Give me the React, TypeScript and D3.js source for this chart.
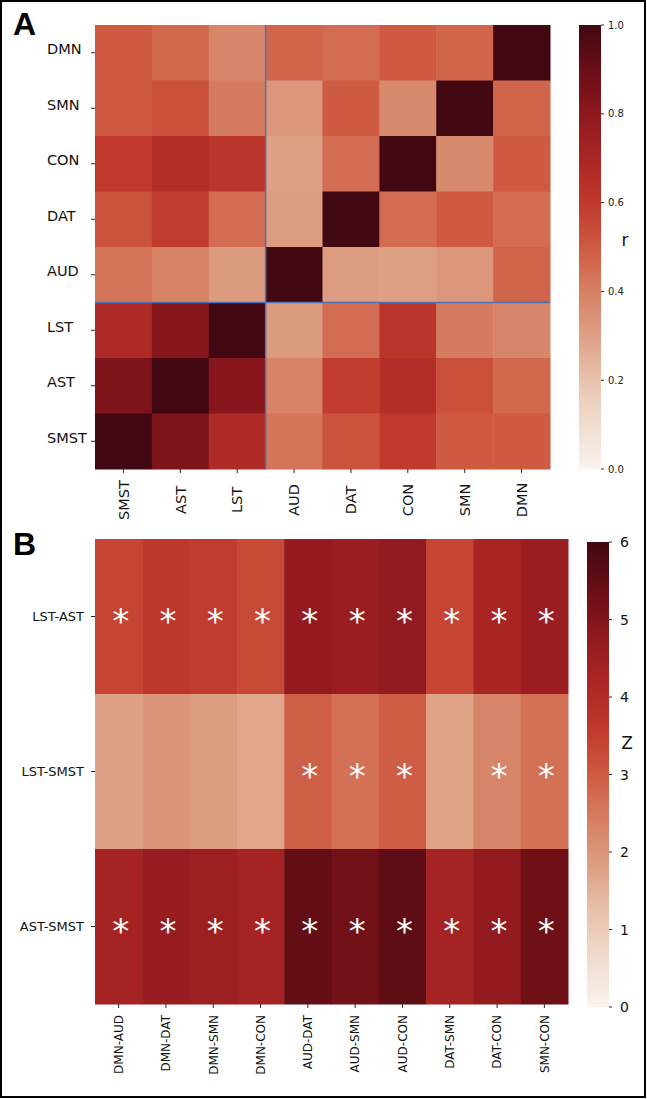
import React from "react";
import * as d3 from "d3";

// ---------- Panel A data ----------
const rowLabelsA = ["DMN", "SMN", "CON", "DAT", "AUD", "LST", "AST", "SMST"];
const colLabelsA = ["SMST", "AST", "LST", "AUD", "DAT", "CON", "SMN", "DMN"];
const rowDMN = [0.5, 0.46, 0.38, 0.47, 0.45, 0.5, 0.47, 1.0];
const rowSMN = [0.5, 0.53, 0.41, 0.33, 0.5, 0.37, 1.0, 0.47];
const rowCON = [0.6, 0.66, 0.62, 0.3, 0.45, 1.0, 0.37, 0.5];
const rowDAT = [0.52, 0.59, 0.45, 0.31, 1.0, 0.45, 0.5, 0.45];
const rowAUD = [0.43, 0.39, 0.32, 1.0, 0.31, 0.3, 0.33, 0.47];
const rowLST = [0.68, 0.82, 1.0, 0.32, 0.45, 0.62, 0.41, 0.38];
const rowAST = [0.85, 1.0, 0.82, 0.39, 0.59, 0.66, 0.53, 0.46];
const rowSMST = [1.0, 0.85, 0.68, 0.43, 0.52, 0.6, 0.5, 0.5];
const matrixA = [rowDMN, rowSMN, rowCON, rowDAT, rowAUD, rowLST, rowAST, rowSMST];
const ticksA = [0.0, 0.2, 0.4, 0.6, 0.8, 1.0];

// ---------- Panel B data ----------
const rowLabelsB = ["LST-AST", "LST-SMST", "AST-SMST"];
const colLabelsB = ["DMN-AUD", "DMN-DAT", "DMN-SMN", "DMN-CON", "AUD-DAT", "AUD-SMN", "AUD-CON", "DAT-SMN", "DAT-CON", "SMN-CON"];
const zLSTAST = [3.4, 3.65, 3.55, 3.3, 4.7, 4.55, 4.75, 3.4, 4.25, 4.55];
const zLSTSMST = [1.8, 2.0, 1.9, 1.7, 2.9, 2.65, 2.95, 1.75, 2.3, 2.65];
const zASTSMST = [4.3, 4.6, 4.5, 4.3, 5.5, 5.25, 5.55, 4.3, 4.7, 5.3];
const sigLSTAST = [1, 1, 1, 1, 1, 1, 1, 1, 1, 1];
const sigLSTSMST = [0, 0, 0, 0, 1, 1, 1, 0, 1, 1];
const sigASTSMST = [1, 1, 1, 1, 1, 1, 1, 1, 1, 1];
const matrixB = [zLSTAST, zLSTSMST, zASTSMST];
const sigB = [sigLSTAST, sigLSTSMST, sigASTSMST];
const ticksB = [0, 1, 2, 3, 4, 5, 6];

// ---------- colormap ----------
const cmapStops = [0, 0.1, 0.2, 0.3, 0.4, 0.5, 0.6, 0.7, 0.8, 0.9, 1.0];
const cmapColors = [
  "rgb(250,243,238)", "rgb(240,221,207)", "rgb(232,194,173)", "rgb(222,160,133)",
  "rgb(214,128,99)", "rgb(206,90,66)", "rgb(192,57,44)", "rgb(170,38,36)",
  "rgb(142,25,30)", "rgb(105,14,22)", "rgb(66,8,17)",
];
const cmap = d3.scaleLinear<string>().domain(cmapStops).range(cmapColors).interpolate(d3.interpolateRgb).clamp(true);

const FONT = "DejaVu Sans, sans-serif";
const TICK = "#262626";

export default function App() {
  // Panel A geometry
  const aL = 95, aR = 550, aT = 25, aB = 469;
  const xA = d3.scaleBand().domain(colLabelsA).range([aL, aR]);
  const yA = d3.scaleBand().domain(rowLabelsA).range([aT, aB]);
  const cbA = { x: 579, w: 22 };
  const cbAy = d3.scaleLinear().domain([0, 1]).range([aB, aT]);

  // Panel B geometry
  const bL = 95, bR = 568, bT = 539, bB = 1004;
  const xB = d3.scaleBand().domain(colLabelsB).range([bL, bR]);
  const yB = d3.scaleBand().domain(rowLabelsB).range([bT, bB]);
  const cbB = { x: 587, w: 22, top: 542, bottom: 1007 };
  const cbBy = d3.scaleLinear().domain([0, 6]).range([cbB.bottom, cbB.top]);
  const zNorm = d3.scaleLinear().domain([0, 6]).range([0, 1]);

  const gradStops = d3.range(0, 1.0001, 0.05);

  const sepX = xA("AUD")!;
  const sepY = yA("LST")!;

  return (
    <svg width={647} height={1099} style={{ position: "absolute", left: 0, top: 0, background: "#fff" }}>
      <defs>
        <linearGradient id="cmapGrad" x1="0" y1="1" x2="0" y2="0">
          {gradStops.map((t, i) => (
            <stop key={i} offset={t} stopColor={cmap(t)} />
          ))}
        </linearGradient>
      </defs>
      <rect x={0} y={0} width={647} height={1099} fill="#fff" />
      <rect x={1} y={1} width={644} height={1096} fill="none" stroke="#000" strokeWidth={2} />

      {/* ---------- Panel A ---------- */}
      <text x={13} y={35} fontFamily="Liberation Sans, Arial, sans-serif" fontWeight="bold" fontSize={32}>A</text>
      <g>
        {matrixA.map((row, i) =>
          row.map((v, j) => (
            <rect key={`a${i}-${j}`} x={xA(colLabelsA[j])} y={yA(rowLabelsA[i])}
              width={xA.bandwidth() + 0.5} height={yA.bandwidth() + 0.5} fill={cmap(v)} />
          ))
        )}
        <line x1={sepX} x2={sepX} y1={aT} y2={aB} stroke="#4a72b8" strokeWidth={1.5} />
        <line x1={aL} x2={aR} y1={sepY} y2={sepY} stroke="#4a72b8" strokeWidth={1.5} />
        {rowLabelsA.map((r) => {
          const cy = yA(r)! + yA.bandwidth() / 2;
          return (
            <g key={r}>
              <line x1={aL - 4} x2={aL} y1={cy} y2={cy} stroke={TICK} strokeWidth={1} />
              <text x={47} y={cy + 1.5} fontFamily={FONT} fontSize={14.5} fill="#111">{r}</text>
            </g>
          );
        })}
        {colLabelsA.map((c) => {
          const cx = xA(c)! + xA.bandwidth() / 2;
          return (
            <g key={c}>
              <line x1={cx} x2={cx} y1={aB} y2={aB + 4} stroke={TICK} strokeWidth={1} />
              <text transform={`translate(${cx},${500}) rotate(-90)`} textAnchor="middle" dy="0.36em"
                fontFamily={FONT} fontSize={14.5} fill="#111">{c}</text>
            </g>
          );
        })}
        {/* colorbar A */}
        <rect x={cbA.x} y={aT} width={cbA.w} height={aB - aT} fill="url(#cmapGrad)" />
        {ticksA.map((t) => (
          <g key={t}>
            <line x1={cbA.x + cbA.w} x2={cbA.x + cbA.w + 3} y1={cbAy(t)} y2={cbAy(t)} stroke={TICK} strokeWidth={1} />
            <text x={cbA.x + cbA.w + 7} y={cbAy(t)} dy="0.36em" fontFamily={FONT} fontSize={10} fill="#222">{t.toFixed(1)}</text>
          </g>
        ))}
        <text x={625} y={246} textAnchor="middle" fontFamily={FONT} fontSize={17} fill="#111">r</text>
      </g>

      {/* ---------- Panel B ---------- */}
      <text x={13} y={555} fontFamily="Liberation Sans, Arial, sans-serif" fontWeight="bold" fontSize={32}>B</text>
      <g>
        {matrixB.map((row, i) =>
          row.map((v, j) => (
            <rect key={`b${i}-${j}`} x={xB(colLabelsB[j])} y={yB(rowLabelsB[i])}
              width={xB.bandwidth() + 0.5} height={yB.bandwidth() + 0.5} fill={cmap(zNorm(v))} />
          ))
        )}
        {matrixB.map((row, i) =>
          row.map((v, j) =>
            sigB[i][j] ? (
              <text key={`s${i}-${j}`} x={xB(colLabelsB[j])! + xB.bandwidth() / 2 + 2}
                y={yB(rowLabelsB[i])! + yB.bandwidth() / 2 + 16.5} textAnchor="middle"
                fontFamily={FONT} fontSize={34} fill="#fff">*</text>
            ) : null
          )
        )}
        {rowLabelsB.map((r) => {
          const cy = yB(r)! + yB.bandwidth() / 2;
          return (
            <g key={r}>
              <line x1={bL - 4} x2={bL} y1={cy} y2={cy} stroke={TICK} strokeWidth={1} />
              <text x={84} y={cy} dy="0.36em" textAnchor="end" fontFamily={FONT} fontSize={13} fill="#111">{r}</text>
            </g>
          );
        })}
        {colLabelsB.map((c) => {
          const cx = xB(c)! + xB.bandwidth() / 2;
          return (
            <g key={c}>
              <line x1={cx} x2={cx} y1={bB} y2={bB + 4} stroke={TICK} strokeWidth={1} />
              <text transform={`translate(${cx},${1015}) rotate(-90)`} textAnchor="end" dy="0.36em"
                fontFamily={FONT} fontSize={12} fill="#111">{c}</text>
            </g>
          );
        })}
        {/* colorbar B */}
        <rect x={cbB.x} y={cbB.top} width={cbB.w} height={cbB.bottom - cbB.top} fill="url(#cmapGrad)" />
        {ticksB.map((t) => (
          <g key={t}>
            <line x1={cbB.x + cbB.w} x2={cbB.x + cbB.w + 3} y1={cbBy(t)} y2={cbBy(t)} stroke={TICK} strokeWidth={1} />
            <text x={cbB.x + cbB.w + 11} y={cbBy(t)} dy="0.36em" fontFamily={FONT} fontSize={14} fill="#111">{t}</text>
          </g>
        ))}
        <text x={627} y={749} textAnchor="middle" fontFamily={FONT} fontSize={17} fill="#111">Z</text>
      </g>
    </svg>
  );
}
